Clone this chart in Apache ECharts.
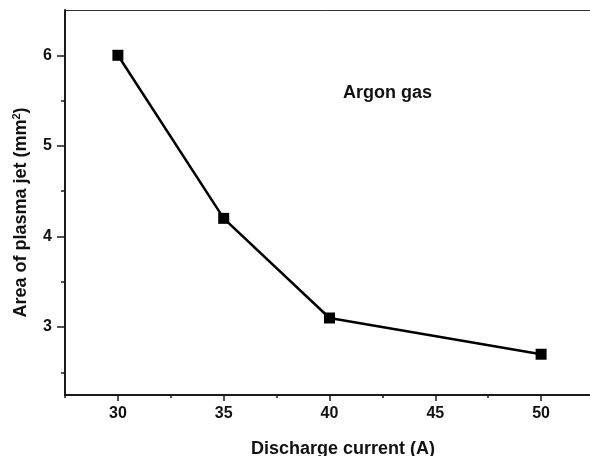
<!DOCTYPE html>
<html>
<head>
<meta charset="utf-8">
<script src="https://cdn.jsdelivr.net/npm/echarts@6/dist/echarts.min.js"></script>
<style>
html,body{margin:0;padding:0;background:#fff;}
#chart{width:590px;height:456px;}
</style>
</head>
<body>
<div id="chart"></div>
<script>
var currents = [30, 35, 40, 50];
var areas = [6.0, 4.2, 3.1, 2.7];
var xMajorTicks = [30, 35, 40, 45, 50];
var xMinorTicks = [27.5, 32.5, 37.5, 42.5, 47.5, 52.5];
var yMajorTicks = [3, 4, 5, 6];
var yMinorTicks = [2.5, 3.5, 4.5, 5.5];
var xTitle = 'Discharge current (A)';
var yTitle = 'Area of plasma jet (mm{sup|2})';
var annotation = 'Argon gas';

var font = 'Liberation Sans, Arial, Helvetica, sans-serif';
var chart = echarts.init(document.getElementById('chart'));
var axisColor = '#1a1a1a';
chart.setOption({
  animation: false,
  backgroundColor: '#fff',
  grid: {left: 65, top: 10, right: -4, bottom: 61, containLabel: false, outerBoundsMode: 'none'},
  xAxis: [
    {
      type: 'value', position: 'bottom', min: 27.5, max: 52.5,
      axisLine: {show: true, lineStyle: {color: axisColor, width: 2}},
      axisTick: {show: true, inside: false, length: 6, customValues: xMajorTicks, lineStyle: {color: axisColor, width: 1.5}},
      axisLabel: {show: true, customValues: xMajorTicks, margin: 11, fontSize: 16, fontWeight: 'bold', color: '#111', fontFamily: font},
      splitLine: {show: false},
      name: xTitle, nameLocation: 'middle', nameGap: 45,
      nameTextStyle: {fontSize: 18, fontWeight: 'bold', color: '#111', fontFamily: font, padding: [0, 0, 0, 27]}
    },
    {
      type: 'value', position: 'bottom', min: 27.5, max: 52.5,
      axisLine: {show: false},
      axisTick: {show: true, inside: false, length: 3, customValues: xMinorTicks, lineStyle: {color: axisColor, width: 1.5}},
      axisLabel: {show: false},
      splitLine: {show: false}
    },
    {
      type: 'value', position: 'top', min: 27.5, max: 52.5,
      axisLine: {show: true, lineStyle: {color: '#333', width: 1}},
      axisTick: {show: false},
      axisLabel: {show: false},
      splitLine: {show: false}
    }
  ],
  yAxis: [
    {
      type: 'value', position: 'left', min: 2.25, max: 6.5,
      axisLine: {show: true, lineStyle: {color: axisColor, width: 2}},
      axisTick: {show: true, inside: false, length: 8, customValues: yMajorTicks, lineStyle: {color: axisColor, width: 1.5}},
      axisLabel: {show: true, customValues: yMajorTicks, margin: 13, fontSize: 16, fontWeight: 'bold', color: '#111', fontFamily: font},
      splitLine: {show: false},
      name: yTitle, nameLocation: 'middle', nameGap: 34, nameRotate: 90,
      nameTextStyle: {
        fontSize: 18, fontWeight: 'bold', color: '#111', fontFamily: font, padding: [0, 20, 0, 0],
        rich: {sup: {fontSize: 11, fontWeight: 'bold', color: '#111', fontFamily: font, verticalAlign: 'bottom', padding: [0, 0, 9, 0]}}
      }
    },
    {
      type: 'value', position: 'left', min: 2.25, max: 6.5,
      axisLine: {show: false},
      axisTick: {show: true, inside: false, length: 4, customValues: yMinorTicks, lineStyle: {color: axisColor, width: 1.5}},
      axisLabel: {show: false},
      splitLine: {show: false}
    }
  ],
  graphic: [
    {type: 'text', left: 343, top: 84, style: {text: annotation, fontSize: 18, fontWeight: 'bold', fill: '#111', fontFamily: font}}
  ],
  series: [{
    type: 'line', xAxisIndex: 0, yAxisIndex: 0,
    data: currents.map(function (c, i) { return [c, areas[i]]; }),
    symbol: 'rect', symbolSize: 11,
    lineStyle: {color: '#000', width: 2.5},
    itemStyle: {color: '#000'}
  }]
});
</script>
</body>
</html>
